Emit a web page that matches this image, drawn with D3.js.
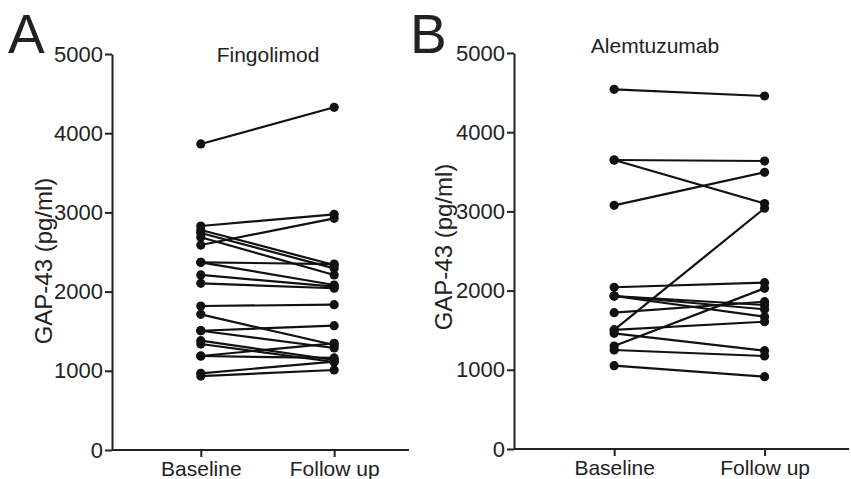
<!DOCTYPE html>
<html>
<head>
<meta charset="utf-8">
<script src="https://cdn.jsdelivr.net/npm/d3@7"></script>
<style>
  body { margin: 0; background: #fff; }
  text { font-family: "Liberation Sans", Arial, sans-serif; fill: #222; }
</style>
</head>
<body>
<svg id="chart" width="851" height="479"></svg>
<script>
const categories = ["Baseline", "Follow up"];
const yTicks = [0, 1000, 2000, 3000, 4000, 5000];
const yLabel = "GAP-43 (pg/ml)";

const titleA = "Fingolimod";
const baselineA = [3864, 2828, 2588, 2778, 2740, 2686, 2370, 2370, 2210, 2105, 1818, 1713, 1506, 1506, 1380, 1338, 1187, 1187, 968, 934];
const followupA = [4327, 2976, 2925, 2336, 2294, 2210, 2348, 2083, 2062, 2042, 1835, 1326, 1570, 1288, 1136, 1111, 1347, 1162, 1115, 1010];

const titleB = "Alemtuzumab";
const baselineB = [4541, 3649, 3649, 3077, 2042, 1932, 1932, 1932, 1721, 1503, 1503, 1461, 1300, 1250, 1052];
const followupB = [4457, 3636, 3100, 3494, 2100, 1818, 1764, 1670, 1860, 3040, 1607, 1241, 2029, 1174, 913];

const svg = d3.select("#chart");

function panel(cfg) {
  const { letter, letterX, title, titleX, titleY, base, follow, x0, x1, yTop, yBot, labelX, labelY } = cfg;
  const g = svg.append("g");
  const y = d3.scaleLinear().domain([0, 5000]).range([yBot, yTop]);
  const w = x1 - x0;
  const x = d3.scalePoint().domain(categories).range([x0 + 0.299 * w, x0 + 0.748 * w]);

  // Y axis
  const yAxis = d3.axisLeft(y).tickValues(yTicks).tickFormat(d3.format("d"))
    .tickSize(7).tickSizeOuter(0).tickPadding(2);
  const ya = g.append("g").attr("transform", `translate(${x0},0)`).call(yAxis);
  ya.select(".domain").attr("stroke", "#222").attr("stroke-width", 2);
  ya.selectAll(".tick line").attr("stroke", "#222").attr("stroke-width", 2);
  ya.selectAll(".tick text").attr("font-size", 22).attr("fill", "#222")
    .style("font-family", "'Liberation Sans', Arial, sans-serif");

  // X axis
  const xAxis = d3.axisBottom(x).tickSize(7).tickSizeOuter(0).tickPadding(2);
  const xa = g.append("g").attr("transform", `translate(0,${yBot})`).call(xAxis);
  xa.select(".domain").attr("d", `M${x0},0H${x1}`).attr("stroke", "#222").attr("stroke-width", 2);
  xa.selectAll(".tick line").attr("stroke", "#222").attr("stroke-width", 2);
  xa.selectAll(".tick text").attr("font-size", 21).attr("fill", "#222").attr("dy", "0.8em")
    .style("font-family", "'Liberation Sans', Arial, sans-serif");

  // Y label
  g.append("text")
    .attr("transform", `translate(${labelX},${labelY}) rotate(-90)`)
    .attr("text-anchor", "middle")
    .attr("font-size", 24)
    .text(yLabel);

  // Title
  g.append("text").attr("x", titleX).attr("y", titleY).attr("text-anchor", "middle")
    .attr("font-size", 21).text(title);

  // Panel letter
  g.append("text").attr("x", letterX).attr("y", 53).attr("font-size", 55).attr("fill", "#111").text(letter);

  // Paired lines
  const pairs = base.map((b, i) => [b, follow[i]]);
  g.append("g").selectAll("line").data(pairs).join("line")
    .attr("x1", x(categories[0])).attr("x2", x(categories[1]))
    .attr("y1", d => y(d[0])).attr("y2", d => y(d[1]))
    .attr("stroke", "#111").attr("stroke-width", 2.2);

  const pts = [];
  pairs.forEach(p => { pts.push([categories[0], p[0]]); pts.push([categories[1], p[1]]); });
  g.append("g").selectAll("circle").data(pts).join("circle")
    .attr("cx", d => x(d[0])).attr("cy", d => y(d[1])).attr("r", 4.6).attr("fill", "#111");
}

panel({ letter: "A", letterX: 8, title: titleA, titleX: 268, titleY: 62, base: baselineA, follow: followupA,
        x0: 112, x1: 409, yTop: 54, yBot: 450, labelX: 52, labelY: 261 });
panel({ letter: "B", letterX: 410, title: titleB, titleX: 655, titleY: 53, base: baselineB, follow: followupB,
        x0: 514, x1: 849, yTop: 53, yBot: 449, labelX: 452, labelY: 247 });
</script>
</body>
</html>
